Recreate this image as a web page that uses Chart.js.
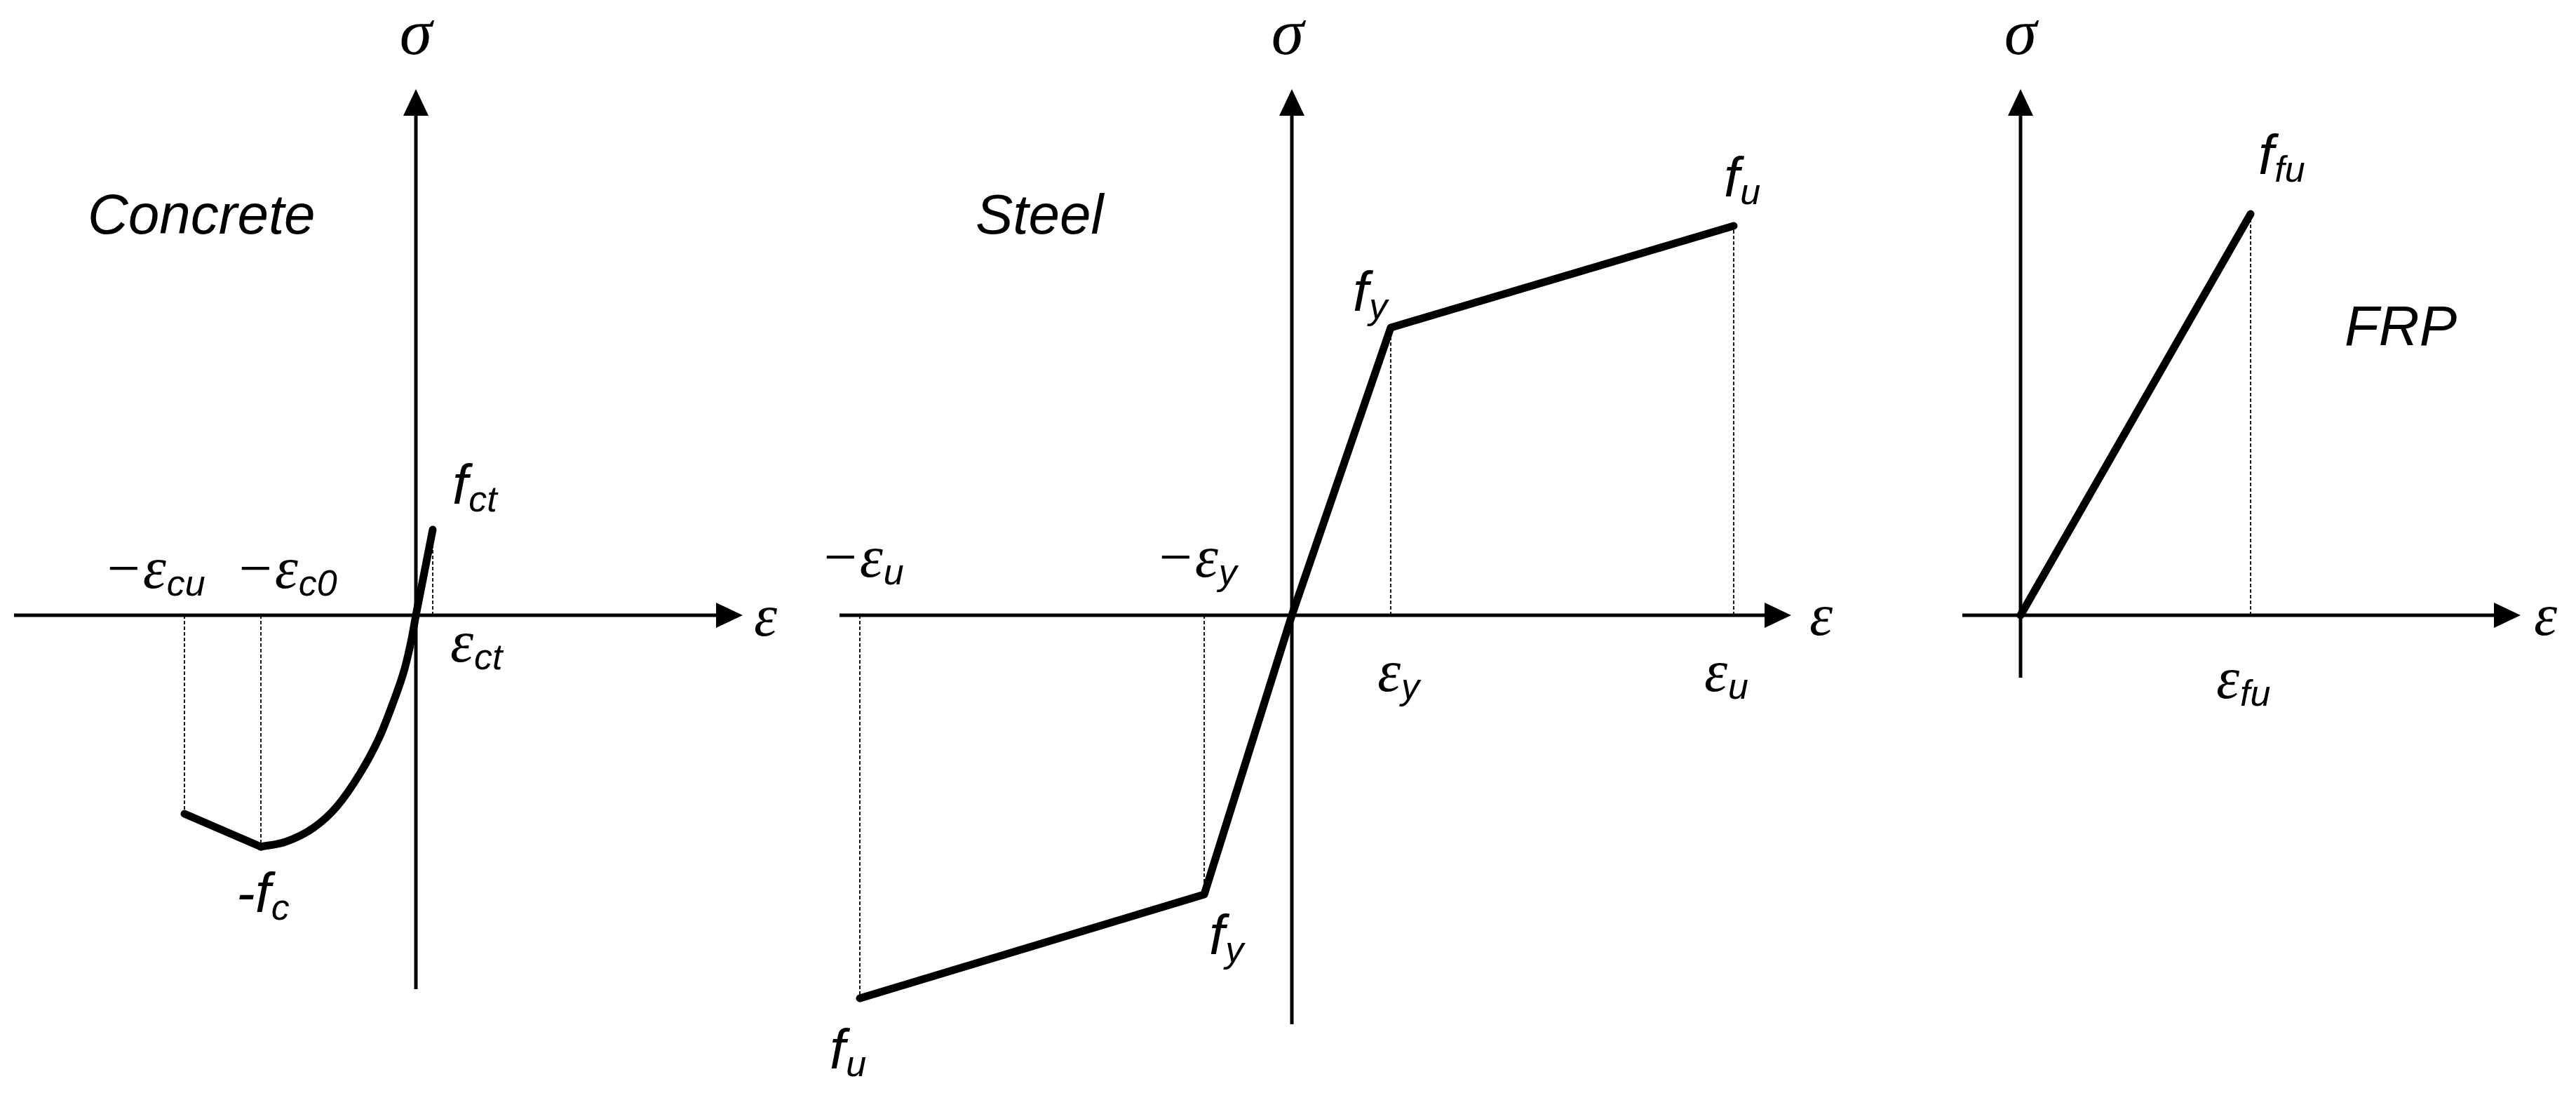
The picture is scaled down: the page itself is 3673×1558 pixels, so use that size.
<!DOCTYPE html>
<html>
<head>
<meta charset="utf-8">
<script src="https://cdn.jsdelivr.net/npm/chart.js"></script>
<style>
    html, body { margin: 0; padding: 0; background: #fff; }
    body { width: 3673px; height: 1558px; position: relative; overflow: hidden; }
    canvas { position: absolute; top: 0; }
</style>
</head>
<body>
<canvas id="concreteChart" width="1130" height="1558" style="left:0px"></canvas>
<canvas id="steelChart" width="1570" height="1558" style="left:1130px"></canvas>
<canvas id="frpChart" width="973" height="1558" style="left:2700px"></canvas>
<script>
// concrete: softening branch, parabolic branch, tension branch (strain, stress)
var concreteSoftStrain = [-3.30, -2.21];
var concreteSoftStress = [-2.83, -3.30];
var concreteParabolaStrain = [-2.21, -1.86, -1.46, -1.13, -0.80, -0.53, -0.33, -0.16, -0.06, 0];
var concreteParabolaStress = [-3.30, -3.23, -3.03, -2.73, -2.26, -1.76, -1.26, -0.76, -0.33, 0];
var concreteTensionStrain = [0, 0.24];
var concreteTensionStress = [0, 1.22];

// steel: -fu, -fy, 0, fy, fu
var steelStrain = [-6.16, -1.25, 0, 1.41, 6.30];
var steelStress = [-5.46, -3.98, 0, 4.10, 5.55];

// FRP: linear up to rupture
var frpStrain = [0, 3.28];
var frpStress = [0, 5.72];

// text: [base, subscript]
var concreteLabels = [['\u2212\u03b5', 'cu'], ['\u2212\u03b5', 'c0'], ['\u03b5', 'ct'], ['f', 'ct'], ['-f', 'c']];
var steelLabels = [['\u2212\u03b5', 'u'], ['\u2212\u03b5', 'y'], ['\u03b5', 'y'], ['\u03b5', 'u'],
    ['f', 'y'], ['f', 'u'], ['f', 'y'], ['f', 'u']];
var frpLabels = [['f', 'fu'], ['\u03b5', 'fu']];
var panelTitles = ['Concrete', 'Steel', 'FRP'];
var axisNames = ['\u03b5', '\u03c3'];

// placement of texts, px offsets from the origin of each panel
var layouts = {
    concreteChart: {
        pad: {left: 20, right: 71, top: 127, bottom: 148},
        x: [-5.73, 4.66], y: [-5.33, 7.50],
        title: [-468, -544], sigma: [0, -800], eps: [482, 29],
        labels: concreteLabels,
        at: [[-446, -39], [-258, -39], [49, 66], [52, -159], [-256, 423]]
    },
    steelChart: {
        pad: {left: 67, right: 146, top: 127, bottom: 98},
        x: [-6.45, 7.12], y: [-5.83, 7.50],
        title: [-451, -544], sigma: [-6, -800], eps: [738, 28],
        labels: steelLabels,
        at: [[-673, -55], [-195, -55], [122, 108], [588, 108], [87, -434], [616, -597], [-118, 483], [-659, 646]]
    },
    frpChart: {
        pad: {left: 98, right: 79, top: 127, bottom: 592},
        x: [-0.83, 7.13], y: [-0.89, 7.50],
        title: [462, -385], sigma: [0, -800], eps: [732, 28],
        labels: frpLabels,
        at: [[339, -629], [279, 118]]
    }
};

var greekFont = 'italic 84px "Liberation Serif", "DejaVu Serif", serif';
var sigmaFont = 'italic 94px "Liberation Serif", "DejaVu Serif", serif';
var mainFont = 'italic 80px "Liberation Sans", Arial, sans-serif';
var subFont = 'italic 52px "Liberation Sans", Arial, sans-serif';

function pts(xs, ys) {
    return xs.map(function (x, i) { return {x: x, y: ys[i]}; });
}

function curve(xs, ys, smooth) {
    return {
        data: pts(xs, ys),
        borderColor: '#000',
        borderWidth: 11,
        borderCapStyle: 'round',
        borderJoinStyle: 'round',
        cubicInterpolationMode: smooth ? 'monotone' : 'default',
        tension: 0,
        pointRadius: 0,
        showLine: true,
        clip: false
    };
}

// dashed drop line from every non-zero point to the strain axis
function guides(xs, ys) {
    var out = [];
    xs.forEach(function (x, i) {
        if (x === 0) return;
        out.push({
            data: [{x: x, y: 0}, {x: x, y: ys[i]}],
            borderColor: '#000',
            borderWidth: 1.8,
            borderDash: [5, 3],
            pointRadius: 0,
            showLine: true,
            clip: false
        });
    });
    return out;
}

function drawLabel(ctx, x, y, pair) {
    var base = pair[0], sub = pair[1];
    ctx.font = base.indexOf('\u03b5') >= 0 ? greekFont : mainFont;
    ctx.fillText(base, x, y);
    var w = ctx.measureText(base).width;
    ctx.font = subFont;
    ctx.fillText(sub, x + w + 1, y + 11);
}

var sketch = {
    id: 'sketch',
    beforeDatasetsDraw: function (chart) {
        var ctx = chart.ctx, a = chart.chartArea;
        var ox = chart.scales.x.getPixelForValue(0);
        var oy = chart.scales.y.getPixelForValue(0);
        ctx.save();
        ctx.strokeStyle = '#000';
        ctx.fillStyle = '#000';
        ctx.lineWidth = 5;
        ctx.beginPath();
        ctx.moveTo(a.left, oy);
        ctx.lineTo(a.right - 30, oy);
        ctx.moveTo(ox, a.bottom);
        ctx.lineTo(ox, a.top + 30);
        ctx.stroke();
        ctx.beginPath();
        ctx.moveTo(a.right, oy);
        ctx.lineTo(a.right - 38, oy - 18);
        ctx.lineTo(a.right - 38, oy + 18);
        ctx.closePath();
        ctx.moveTo(ox, a.top);
        ctx.lineTo(ox - 18, a.top + 38);
        ctx.lineTo(ox + 18, a.top + 38);
        ctx.closePath();
        ctx.fill();
        ctx.restore();
    },
    afterDraw: function (chart) {
        var ctx = chart.ctx;
        var lay = layouts[chart.canvas.id];
        var ox = chart.scales.x.getPixelForValue(0);
        var oy = chart.scales.y.getPixelForValue(0);
        ctx.save();
        ctx.fillStyle = '#000';
        ctx.textBaseline = 'alphabetic';
        ctx.textAlign = 'left';
        ctx.font = mainFont;
        ctx.fillText(lay.panelTitle, ox + lay.title[0], oy + lay.title[1]);
        ctx.font = greekFont;
        ctx.fillText(axisNames[0], ox + lay.eps[0], oy + lay.eps[1]);
        ctx.font = sigmaFont;
        ctx.textAlign = 'center';
        ctx.fillText(axisNames[1], ox + lay.sigma[0], oy + lay.sigma[1]);
        ctx.textAlign = 'left';
        lay.labels.forEach(function (pair, i) {
            drawLabel(ctx, ox + lay.at[i][0], oy + lay.at[i][1], pair);
        });
        ctx.restore();
    }
};

function makeChart(id, title, datasets) {
    var lay = layouts[id];
    lay.panelTitle = title;
    return new Chart(document.getElementById(id).getContext('2d'), {
        type: 'scatter',
        data: {datasets: datasets},
        options: {
            responsive: false,
            animation: false,
            events: [],
            layout: {padding: lay.pad},
            scales: {
                x: {type: 'linear', display: false, min: lay.x[0], max: lay.x[1]},
                y: {type: 'linear', display: false, min: lay.y[0], max: lay.y[1]}
            },
            plugins: {legend: {display: false}, tooltip: {enabled: false}}
        },
        plugins: [sketch]
    });
}

makeChart('concreteChart', panelTitles[0], [
    curve(concreteSoftStrain, concreteSoftStress, false),
    curve(concreteParabolaStrain, concreteParabolaStress, true),
    curve(concreteTensionStrain, concreteTensionStress, false)
].concat(guides(concreteSoftStrain, concreteSoftStress), guides(concreteTensionStrain, concreteTensionStress)));

makeChart('steelChart', panelTitles[1], [
    curve(steelStrain, steelStress, false)
].concat(guides(steelStrain, steelStress)));

makeChart('frpChart', panelTitles[2], [
    curve(frpStrain, frpStress, false)
].concat(guides(frpStrain, frpStress)));
</script>
</body>
</html>
